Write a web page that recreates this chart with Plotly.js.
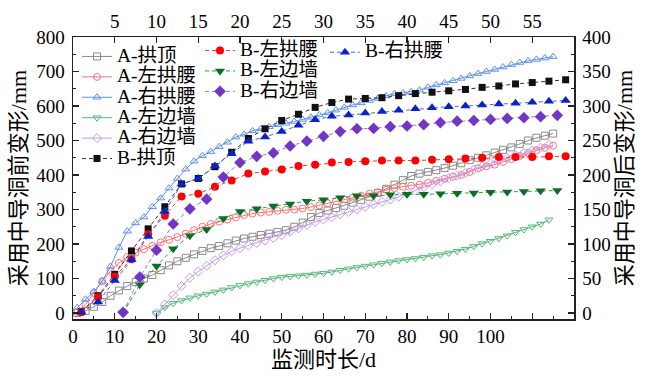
<!DOCTYPE html>
<html>
<head>
<meta charset="utf-8">
<script src="https://cdn.plot.ly/plotly-3.0.1.min.js"></script>
<style>html,body{margin:0;padding:0;background:#fff;}#chart{width:650px;height:378px;}</style>
</head>
<body>
<div id="chart"></div>
<script>
// ---- data ----
const daysA = [1,3,5,7,9,11,13,15,17,19,21,23,25,27,29,31,33,35,37,39,41,43,45,47,49,51,53,55,57,59,61,63,65,67,69,71,73,75,77,79,81,83,85,87,89,91,93,95,97,99,101,103,105,107,109,111,113,115];
const daysAWall = [20,22,24,26,28,30,32,34,36,38,40,42,44,46,48,50,52,54,56,58,60,62,64,66,68,70,72,74,76,78,80,82,84,86,88,90,92,94,96,98,100,102,104,106,108,110,112,114];
const tB = [1,3,5,7,9,11,13,15,17,19,21,23,25,27,29,31,33,35,37,39,41,43,45,47,49,51,53,55,57,59];
const tBWall = [6,8,10,12,14,16,18,20,22,24,26,28,30,32,34,36,38,40,42,44,46,48,50,52,54,56,58];

const A_crown = [0,6,18,32,50,65,78,90,100,110,124,138,150,160,170,180,188,194,202,210,216,221,226,230,235,240,250,262,278,290,297,304,311,320,328,337,348,360,372,385,397,404,409,414,420,427,434,443,450,457,465,473,480,490,500,508,514,520];
const A_leftHaunch = [3,25,58,92,122,145,162,175,185,195,205,212,220,230,240,250,258,265,271,277,284,288,291,293,296,299,300,303,307,312,318,324,329,334,340,346,350,357,362,366,369,372,377,383,389,395,400,409,419,425,430,438,446,455,464,472,479,485];
const A_rightHaunch = [15,40,62,92,135,190,237,261,278,308,333,362,390,417,440,456,468,482,495,510,518,528,534,540,546,550,555,561,567,574,580,588,596,603,609,616,622,629,636,638,641,646,654,661,667,673,680,687,694,700,706,713,720,726,731,735,739,743];
const A_leftWall = [0,16,28,36,44,50,55,61,67,74,80,85,90,95,100,104,106,108,110,113,115,119,124,128,132,136,140,144,148,152,155,158,162,166,169,174,179,185,193,201,208,216,224,234,242,250,258,270];
const A_rightWall = [0,25,52,78,102,120,137,153,167,179,188,196,203,210,218,226,236,245,255,264,271,278,286,293,300,308,315,322,329,337,346,355,365,373,382,391,398,406,416,425,433,441,449,457,464,471,479,487];

const B_crown = [2,25,56,90,122,154,187,195,212,233,253,267,279,288,298,305,310,311,312,315,318,320,322,324,327,329,332,334,336,338];
const B_leftHaunch = [1,23,53,78,114,141,169,173,183,192,202,205,208,213,215,218,219,220,221,221,221,222,223,224,225,226,226,226,227,227];
const B_rightHaunch = [1,16,47,77,111,147,187,195,213,231,249,255,263,272,280,285,287,290,292,294,296,297.5,299,300,301.5,303,304,305.5,307,308];
const B_leftWall = [0,41,68,93,112,121,137,147,151,155,158,162,164,167,170,170,171.5,172,172,173,173.5,174,175,175.5,176,177,177.5];
const B_rightWall = [1,52,91,129,151,165,197,218,227,232,242,249,256,263,267,267.5,270,271,273,276,278,279,280.5,282,283,284.5,286.5];

const bottomTicks = [0,10,20,30,40,50,60,70,80,90,100,110,120];
const bottomTickText = ['0','10','20','30','40','50','60','70','80','90','100','',''];
const topTicks = [0,5,10,15,20,25,30,35,40,45,50,55,60];
const topTickText = ['','5','10','15','20','25','30','35','40','45','50','55',''];

// ---- traces ----
const FONT = "'Liberation Serif', 'Noto Sans CJK SC', serif";
const LEG_SIZE = 19.5;
function lbl(s) { return '<span style="font-size:' + LEG_SIZE + 'px">' + s + '</span>'; }
function openA(name, x, y, color, symbol) {
  return {type:'scatter', mode:'lines+markers', name:lbl(name), x:x, y:y, xaxis:'x', yaxis:'y',
    line:{color:color, width:1}, marker:{symbol:symbol, size:7, color:color, line:{color:color, width:1}},
    legend:'legend'};
}
function filledB(name, x, y, lineColor, markerColor, symbol, legend, size) {
  return {type:'scatter', mode:'lines+markers', name:lbl(name), x:x, y:y, xaxis:'x2', yaxis:'y2',
    line:{color:lineColor, width:1, dash:'4px,3px'}, marker:{symbol:symbol, size:size||8, color:markerColor, line:{width:0}},
    legend:legend};
}
const traces = [
  openA('A-拱顶', daysA, A_crown, '#8a8a8a', 'square-open'),
  openA('A-左拱腰', daysA, A_leftHaunch, '#ff7070', 'circle-open'),
  openA('A-右拱腰', daysA, A_rightHaunch, '#5a8ff0', 'triangle-up-open'),
  openA('A-左边墙', daysAWall, A_leftWall, '#55b87a', 'triangle-down-open'),
  openA('A-右边墙', daysAWall, A_rightWall, '#c49af0', 'diamond-open'),
  filledB('B-拱顶', tB, B_crown, '#333333', '#111111', 'square', 'legend', 7),
  filledB('B-左拱腰', tB, B_leftHaunch, '#ff3030', '#ff0000', 'circle', 'legend2', 8),
  filledB('B-左边墙', tBWall, B_leftWall, '#2e9a55', '#0a6e24', 'triangle-down', 'legend2', 9),
  filledB('B-右边墙', tBWall, B_rightWall, '#9a6ee0', '#7236c4', 'diamond', 'legend2', 9),
  filledB('B-右拱腰', tB, B_rightHaunch, '#3a6be0', '#0a22c8', 'triangle-up', 'legend3', 9)
];

const axCommon = {showgrid:false, zeroline:false, showline:true, linecolor:'#222', linewidth:1.5,
  ticks:'inside', ticklen:6, tickwidth:1.2, tickcolor:'#222',
  tickfont:{family:FONT, size:19, color:'#000'}};

const legendCommon = {xanchor:'left', yanchor:'top', bgcolor:'rgba(0,0,0,0)', borderwidth:0,
  font:{family:FONT, size:13.4, color:'#000'}, tracegroupgap:0, itemwidth:30};

const TITLE_FONT = {family:FONT, size:22, color:'#000'};
const layout = {
  width:650, height:378,
  margin:{l:73, r:76, t:37, b:59, pad:0},
  paper_bgcolor:'#fff', plot_bgcolor:'#fff',
  font:{family:FONT, color:'#000'},
  showlegend:true,
  xaxis: Object.assign({}, axCommon, {range:[0,120], tickmode:'array', tickvals:bottomTicks, ticktext:bottomTickText,
    minor:{tickmode:'linear', tick0:0, dtick:5, ticks:'inside', ticklen:3, tickcolor:'#222'},
    title:{text:'监测时长/d', font:TITLE_FONT, standoff:1}}),
  xaxis2: Object.assign({}, axCommon, {range:[0,60], overlaying:'x', side:'top', anchor:'y',
    tickmode:'array', tickvals:topTicks, ticktext:topTickText}),
  yaxis: Object.assign({}, axCommon, {range:[-17.4,800], tickmode:'linear', tick0:0, dtick:100,
    minor:{tickmode:'linear', tick0:0, dtick:50, ticks:'inside', ticklen:3, tickcolor:'#222'},
    ticklabelstandoff:3,
    title:{text:'采用中导洞前变形/mm', font:TITLE_FONT, standoff:3}}),
  yaxis2: Object.assign({}, axCommon, {range:[-8.7,400], overlaying:'y', side:'right', anchor:'x',
    tickmode:'linear', tick0:0, dtick:50,
    minor:{tickmode:'linear', tick0:0, dtick:25, ticks:'inside', ticklen:3, tickcolor:'#222'},
    ticklabelstandoff:3,
    title:{text:'采用中导洞后变形/mm', font:TITLE_FONT, standoff:7}}),
  legend: Object.assign({}, legendCommon, {x:0.008, y:0.985}),
  legend2: Object.assign({}, legendCommon, {x:0.2535, y:1.006}),
  legend3: Object.assign({}, legendCommon, {x:0.503, y:1.0})
};

Plotly.newPlot('chart', traces, layout, {displayModeBar:false, staticPlot:true});
</script>
</body>
</html>
